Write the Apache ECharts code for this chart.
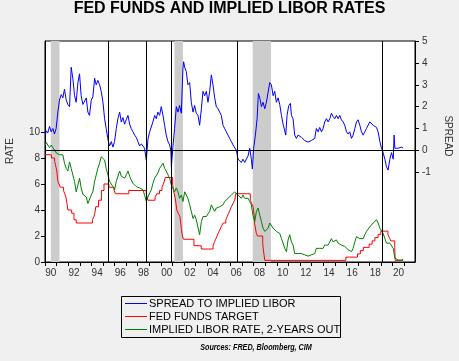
<!DOCTYPE html>
<html><head><meta charset="utf-8">
<script src="https://cdn.jsdelivr.net/npm/echarts@6/dist/echarts.min.js"></script>
<style>html,body{margin:0;padding:0;background:#f0f0f0;}#c{width:459px;height:361px;}</style>
</head><body><div id="c"></div>
<script>
const seriesNames = ['SPREAD TO IMPLIED LIBOR', 'FED FUNDS TARGET', 'IMPLIED LIBOR RATE, 2-YEARS OUT'];
const seriesColors = ['#0000ff', '#ff0000', '#008000'];

const spreadDates = [1990.04,1990.10,1990.24,1990.39,1990.53,1990.68,1990.82,1990.96,1991.11,1991.25,1991.40,1991.54,1991.68,1991.83,1991.97,
1992.12,1992.26,1992.40,1992.55,1992.69,1992.84,1992.98,1993.12,1993.27,1993.41,1993.56,1993.70,1993.84,1993.99,
1994.13,1994.28,1994.42,1994.56,1994.71,1994.85,1995.00,1995.14,1995.28,1995.43,1995.57,1995.72,1995.86,1996.00,
1996.15,1996.29,1996.44,1996.58,1996.72,1996.87,1997.01,1997.16,1997.30,1997.44,1997.59,1997.73,1997.87,1998.02,
1998.16,1998.31,1998.45,1998.59,1998.74,1998.88,1999.03,1999.17,1999.31,1999.46,1999.60,1999.74,1999.89,2000.03,
2000.18,2000.32,2000.46,2000.61,2000.75,2000.86,2000.90,2001.04,2001.18,2001.33,2001.47,2001.61,2001.76,2001.90,2001.96,
2002.05,2002.19,2002.33,2002.48,2002.62,2002.77,2002.91,2003.05,2003.20,2003.34,2003.49,2003.63,2003.77,2003.92,
2004.06,2004.21,2004.35,2004.49,2004.64,2004.78,2004.93,2005.07,2005.21,2005.36,2005.50,2005.64,2005.79,2005.93,
2006.08,2006.22,2006.36,2006.51,2006.65,2006.80,2006.94,2007.08,2007.23,2007.37,2007.52,2007.66,2007.80,2007.89,
2008.00,2008.15,2008.30,2008.41,2008.53,2008.67,2008.81,2008.96,2009.10,2009.25,2009.39,2009.53,2009.68,2009.82,2009.96,
2010.11,2010.25,2010.40,2010.54,2010.68,2010.77,2010.88,2011.03,2011.17,2011.26,2011.40,2011.54,2011.69,2011.83,2011.98,
2012.12,2012.26,2012.41,2012.55,2012.70,2012.84,2012.98,2013.13,2013.27,2013.41,2013.56,2013.70,2013.85,2013.99,
2014.13,2014.28,2014.42,2014.57,2014.71,2014.85,2015.00,2015.14,2015.29,2015.43,2015.57,2015.72,2015.86,2016.01,
2016.15,2016.29,2016.44,2016.58,2016.73,2016.87,2017.01,2017.16,2017.30,2017.45,2017.59,2017.73,2017.88,2018.02,
2018.17,2018.31,2018.45,2018.60,2018.74,2018.89,2019.03,2019.17,2019.32,2019.46,2019.60,2019.75,2019.89,2020.04,
2020.12,2020.18,2020.32,2020.47,2020.61,2020.75,2020.90];
const spreadValues = [0.7,0.9,0.8,1.1,0.85,1.0,0.75,1.0,1.75,2.3,2.55,2.4,2.8,2.3,2.1,
2.0,3.8,3.3,2.5,2.2,3.1,3.5,2.5,2.1,2.05,2.4,1.75,1.6,2.3,
2.45,3.3,3.0,3.2,3.0,2.7,2.2,1.45,1.0,0.5,0.2,0.4,0.15,0.4,
1.0,1.45,1.75,1.3,1.5,1.2,1.4,1.6,1.2,1.0,0.85,0.7,0.6,0.4,
0.2,0.3,0.2,0.1,-0.45,0.5,0.85,0.9,1.3,1.6,1.45,1.75,1.6,2.0,
1.6,1.15,0.7,0.4,0.25,0.0,-0.75,0.2,1.0,2.0,1.75,2.05,1.7,3.75,4.05,
3.8,3.6,3.0,3.1,2.2,1.75,2.05,1.7,1.6,1.15,1.9,2.7,2.5,2.7,
2.2,2.7,3.45,3.0,2.4,2.0,1.9,1.75,1.6,1.15,1.0,0.85,0.7,0.55,
0.4,0.25,0.25,0.0,-0.4,-0.45,-0.55,-0.4,-0.55,-0.4,-0.25,0.1,-0.4,-0.85,
0.1,0.7,1.45,2.6,2.4,2.0,2.2,1.9,2.2,2.15,3.1,3.0,2.5,2.7,2.2,
2.4,2.1,1.6,1.2,1.15,0.7,1.6,2.05,2.15,1.6,1.45,0.7,0.55,0.7,0.7,
0.6,0.55,0.45,0.4,0.38,0.35,0.45,0.4,0.55,1.0,0.85,1.05,0.85,1.0,
1.3,1.45,1.3,1.45,1.7,1.55,1.45,1.6,1.45,1.6,1.4,1.3,1.15,0.85,
0.75,0.85,0.55,0.7,1.0,1.3,1.4,1.15,0.85,0.7,0.85,1.0,1.05,1.3,
1.25,1.15,1.1,1.05,0.85,0.4,0.1,-0.1,-0.4,-0.75,-0.9,-0.4,-0.1,-0.4,
0.7,0.1,0.1,0.1,0.1,0.15,0.1];

const liborDates = [1990.04,1990.10,1990.24,1990.39,1990.53,1990.68,1990.82,1990.96,1991.11,1991.25,1991.40,1991.54,1991.68,1991.83,1991.97,
1992.12,1992.26,1992.40,1992.55,1992.69,1992.84,1992.98,1993.12,1993.27,1993.41,1993.56,1993.70,1993.84,1993.99,
1994.13,1994.28,1994.42,1994.56,1994.71,1994.85,1995.00,1995.14,1995.28,1995.43,1995.57,1995.72,1995.86,1996.00,
1996.15,1996.29,1996.44,1996.58,1996.72,1996.87,1997.01,1997.16,1997.30,1997.44,1997.59,1997.73,1997.87,1998.02,
1998.16,1998.31,1998.45,1998.59,1998.74,1998.88,1999.03,1999.17,1999.31,1999.46,1999.60,1999.74,1999.89,2000.03,
2000.18,2000.32,2000.46,2000.61,2000.75,2000.90,2001.04,2001.18,2001.33,2001.47,2001.61,2001.76,2001.90,
2002.05,2002.19,2002.33,2002.48,2002.62,2002.77,2002.91,2003.05,2003.20,2003.34,2003.49,2003.63,2003.77,2003.92,
2004.06,2004.21,2004.35,2004.49,2004.64,2004.78,2004.93,2005.07,2005.21,2005.36,2005.50,2005.64,2005.79,2005.93,
2006.08,2006.22,2006.36,2006.51,2006.65,2006.80,2006.94,2007.08,2007.23,2007.37,2007.52,2007.66,2007.80,2007.94,
2008.09,2008.24,2008.38,2008.53,2008.67,2008.81,2008.96,2009.10,2009.25,2009.39,2009.53,2009.68,2009.82,2009.96,
2010.11,2010.25,2010.40,2010.54,2010.68,2010.83,2010.97,2011.11,2011.26,2011.40,2011.54,2011.69,2011.83,2011.98,
2012.12,2012.26,2012.41,2012.55,2012.70,2012.84,2012.98,2013.13,2013.27,2013.41,2013.56,2013.70,2013.85,2013.99,
2014.13,2014.28,2014.42,2014.57,2014.71,2014.85,2015.00,2015.14,2015.29,2015.43,2015.57,2015.72,2015.86,2016.01,
2016.15,2016.29,2016.44,2016.58,2016.73,2016.87,2017.01,2017.16,2017.30,2017.45,2017.59,2017.73,2017.88,2018.02,
2018.17,2018.31,2018.45,2018.60,2018.74,2018.89,2019.03,2019.17,2019.32,2019.46,2019.60,2019.75,2019.89,2020.04,
2020.18,2020.32,2020.47,2020.61,2020.75,2020.90];
const liborValues = [9.0,9.2,9.3,8.8,9.0,8.8,8.6,8.4,8.5,8.25,8.4,8.25,7.6,7.2,7.0,
7.7,7.2,6.7,6.2,5.4,5.9,6.45,5.7,5.2,5.3,5.0,4.5,4.65,5.15,
5.4,6.2,6.7,7.2,7.6,8.1,8.25,7.85,7.2,6.7,6.2,6.05,5.8,5.55,
6.2,6.6,7.0,6.6,6.7,6.45,6.7,7.0,6.6,6.3,6.05,5.9,5.8,5.7,
5.7,5.55,5.55,5.15,4.65,5.0,5.3,5.55,6.05,6.45,6.6,6.85,7.2,7.35,
7.6,7.2,7.0,6.7,6.45,5.9,5.7,5.4,5.7,5.4,4.9,5.15,4.65,
5.4,5.15,4.9,4.4,3.9,3.35,3.6,3.25,3.1,2.1,3.1,3.5,3.35,3.5,
3.35,3.9,4.4,4.15,3.9,4.15,4.0,4.25,4.15,4.4,4.65,4.8,4.9,4.9,
5.15,5.3,5.4,5.4,5.15,5.0,4.9,5.15,4.9,5.0,4.9,4.65,4.4,3.6,
3.1,3.9,4.15,3.6,3.1,2.6,2.35,2.35,2.6,3.0,2.85,2.6,2.7,2.35,
2.45,2.2,1.8,1.45,1.05,0.8,1.7,2.1,1.55,1.3,0.65,0.55,0.65,0.65,
0.65,0.55,0.55,0.5,0.45,0.5,0.55,0.5,0.65,1.05,0.95,1.05,0.95,1.05,
1.3,1.45,1.3,1.55,1.8,1.55,1.45,1.7,1.45,1.55,1.3,1.45,1.2,1.05,
0.95,1.05,0.8,1.05,1.55,1.95,2.1,1.8,1.7,1.8,2.1,2.35,2.45,2.7,
2.85,3.0,3.1,3.25,3.0,2.6,2.45,2.2,1.8,1.45,1.3,1.45,1.55,1.05,
0.3,0.15,0.15,0.15,0.15,0.2];

const fedDates = [1990.0,1990.55,1990.83,1990.9,1990.96,1991.02,1991.1,1991.2,1991.33,1991.6,1991.7,1991.8,1991.9,1991.97,
1992.3,1992.5,1992.7,1994.09,1994.22,1994.3,1994.38,1994.62,1994.87,1995.09,1995.51,1995.96,1996.08,1997.23,
1998.74,1998.8,1998.88,1999.5,1999.64,1999.88,2000.09,2000.22,2000.38,2001.01,2001.08,2001.22,2001.3,2001.37,
2001.49,2001.64,2001.71,2001.77,2001.85,2001.95,2002.85,2003.48,2004.5,2004.6,2004.72,2004.85,2004.96,2005.09,
2005.22,2005.37,2005.6,2005.72,2005.84,2005.96,2006.08,2006.22,2006.37,2006.45,2007.71,2007.83,2007.95,2008.06,
2008.08,2008.22,2008.33,2008.78,2008.83,2008.96,2015.96,2016.96,2017.21,2017.46,2017.96,2018.22,2018.46,2018.74,
2018.97,2019.58,2019.71,2019.83,2020.17,2020.21,2020.90];
const fedValues = [8.25,8.0,7.75,7.5,7.25,7.0,6.25,6.0,5.75,5.5,5.25,5.0,4.5,4.0,
3.75,3.25,3.0,3.25,3.5,3.75,4.25,4.75,5.5,6.0,5.75,5.5,5.25,5.5,
5.25,5.0,4.75,5.0,5.25,5.5,5.75,6.0,6.5,6.0,5.5,5.0,4.5,4.0,
3.75,3.5,3.0,2.5,2.0,1.75,1.25,1.0,1.25,1.5,1.75,2.0,2.25,2.5,
2.75,3.0,3.25,3.5,3.75,4.0,4.25,4.5,4.75,5.25,4.75,4.5,4.25,3.5,
3.0,2.25,2.0,1.5,1.0,0.125,0.375,0.625,0.875,1.125,1.375,1.625,1.875,2.125,
2.375,2.125,1.875,1.625,1.125,0.125,0.125];

const recessionStarts = [1990.5, 2001.17, 2007.92];
const recessionEnds = [1991.25, 2001.9, 2009.5];
const cycleLines = [1995.43, 1998.71, 2000.92, 2006.57, 2019.09];
const yearTicks = [1990,1991,1992,1993,1994,1995,1996,1997,1998,1999,2000,2001,2002,2003,2004,2005,2006,2007,2008,2009,2010,2011,2012,2013,2014,2015,2016,2017,2018,2019,2020,2021];
const yearLabelPos = [1990.5,1992.5,1994.5,1996.5,1998.5,2000.5,2002.5,2004.5,2006.5,2008.5,2010.5,2012.5,2014.5,2016.5,2018.5,2020.5];
const rateTicks = [0,2,4,6,8,10];
const spreadTicks = [-1,0,1,2,3,4,5];

const zip = (a, b) => a.map((d, i) => [d, b[i]]);
const FONT = 'Liberation Sans, Arial, sans-serif';
const lbl = {fontSize: 10, color: '#333', fontFamily: FONT};

// legend drawn as a boxed key (box, sample lines, names)
const legendGraphics = [{type: 'rect', shape: {x: 121.5, y: 296.5, width: 219, height: 41},
  style: {fill: null, stroke: '#000', lineWidth: 1}}];
seriesNames.forEach((n, i) => {
  const cy = 303 + i * 13;
  legendGraphics.push({type: 'line', shape: {x1: 125, y1: cy + 0.5, x2: 147, y2: cy + 0.5},
    style: {stroke: seriesColors[i], lineWidth: 1}});
  legendGraphics.push({type: 'text', x: 149, y: cy + 0.5,
    style: {text: n, fontSize: 11, fill: '#000', fontFamily: FONT, align: 'left', verticalAlign: 'middle'}});
});

const chart = echarts.init(document.getElementById('c'), null, {renderer: 'canvas'});
chart.setOption({
  animation: false,
  backgroundColor: '#f0f0f0',
  title: {text: 'FED FUNDS AND IMPLIED LIBOR RATES', left: 'center', top: 1, padding: 0,
    textStyle: {fontSize: 16, fontWeight: 'bold', color: '#000', fontFamily: FONT}},
  grid: {left: 45, right: 44, top: 41, bottom: 99, show: true, backgroundColor: '#fff', borderColor: '#000', borderWidth: 1},
  xAxis: {type: 'value', min: 1990, max: 2021.92,
    axisLine: {lineStyle: {color: '#000'}},
    axisTick: {customValues: yearTicks, length: 4, lineStyle: {color: '#000'}},
    axisLabel: Object.assign({customValues: yearLabelPos, margin: 6,
      formatter: v => String(Math.floor(v) % 100).padStart(2, '0')}, lbl),
    splitLine: {show: false}},
  yAxis: [
    {type: 'value', position: 'left', min: 0, max: 17,
     axisLine: {show: true, lineStyle: {color: '#000'}},
     axisTick: {show: true, customValues: rateTicks, length: 4, lineStyle: {color: '#000'}},
     axisLabel: Object.assign({customValues: rateTicks, margin: 5}, lbl),
     splitLine: {show: false}},
    {type: 'value', position: 'right', min: -5.1, max: 5,
     axisLine: {show: true, lineStyle: {color: '#000'}},
     axisTick: {show: true, customValues: spreadTicks, length: 4, lineStyle: {color: '#000'}},
     axisLabel: Object.assign({customValues: spreadTicks, margin: 7}, lbl),
     splitLine: {show: false}}
  ],
  graphic: [
    {type: 'text', x: 10, y: 151, rotation: Math.PI / 2,
     style: {text: 'RATE', fontSize: 10, fill: '#333', fontFamily: FONT, align: 'center', verticalAlign: 'middle'}},
    {type: 'text', x: 448, y: 136, rotation: -Math.PI / 2,
     style: {text: 'SPREAD', fontSize: 10, fill: '#333', fontFamily: FONT, align: 'center', verticalAlign: 'middle'}},
    {type: 'text', x: 256, y: 348, scaleX: 0.8,
     style: {text: 'Sources: FRED, Bloomberg, CIM', fontSize: 9, fontWeight: 'bold', fontStyle: 'italic', fill: '#000',
       fontFamily: FONT, align: 'center', verticalAlign: 'middle'}}
  ].concat(legendGraphics),
  series: [
    {type: 'line', name: '_shade', data: [], xAxisIndex: 0, yAxisIndex: 1, z: 1, silent: true,
     markArea: {silent: true, itemStyle: {color: '#cccccc'},
       data: recessionStarts.map((s, i) => [{xAxis: s}, {xAxis: recessionEnds[i]}])}},
    {type: 'line', name: '_lines', data: [], xAxisIndex: 0, yAxisIndex: 1, z: 2, silent: true,
     markLine: {silent: true, symbol: 'none', label: {show: false}, lineStyle: {color: '#000', width: 1, type: 'solid'},
       data: cycleLines.map(v => ({xAxis: v})).concat([{yAxis: 0}])}},
    {type: 'line', name: seriesNames[0], data: zip(spreadDates, spreadValues), xAxisIndex: 0, yAxisIndex: 1, z: 3,
     showSymbol: false, lineStyle: {color: seriesColors[0], width: 1}, itemStyle: {color: seriesColors[0]}},
    {type: 'line', name: seriesNames[1], data: zip(fedDates, fedValues), xAxisIndex: 0, yAxisIndex: 0, z: 3, step: 'end',
     showSymbol: false, lineStyle: {color: seriesColors[1], width: 1}, itemStyle: {color: seriesColors[1]}},
    {type: 'line', name: seriesNames[2], data: zip(liborDates, liborValues), xAxisIndex: 0, yAxisIndex: 0, z: 3,
     showSymbol: false, lineStyle: {color: seriesColors[2], width: 1}, itemStyle: {color: seriesColors[2]}}
  ]
});
</script></body></html>
